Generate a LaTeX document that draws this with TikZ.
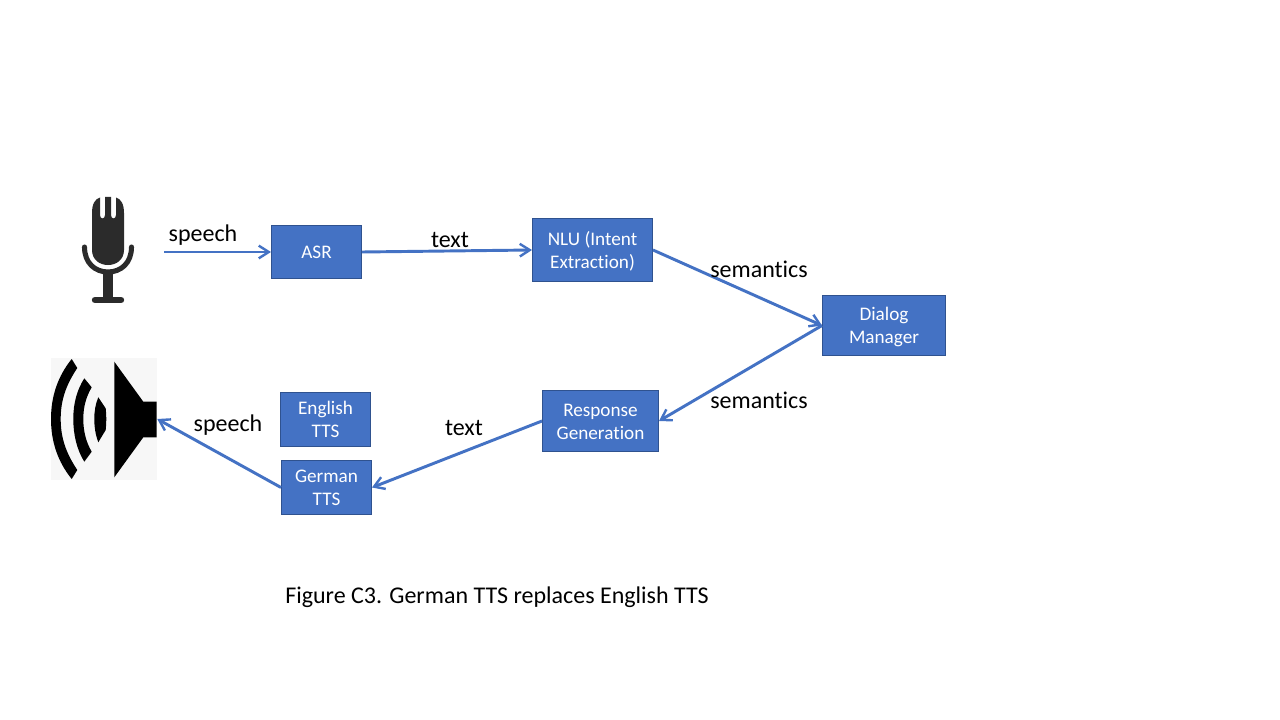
\documentclass[tikz,border=0pt]{standalone}
\usepackage{fontspec}
\setmainfont{Carlito}[Ligatures=NoCommon]
\usetikzlibrary{arrows.meta,positioning}
\definecolor{boxblue}{HTML}{4472C4}
\definecolor{boxedge}{HTML}{2F528F}
\definecolor{micdark}{HTML}{2B2B2B}
\tikzset{
  x=0.75pt,y=-0.75pt,
  block/.style={draw=boxedge,line width=0.6pt,fill=boxblue,text=white,align=center,inner sep=0pt,font=\fontsize{14.4}{17}\selectfont},
  conn/.style={draw=boxblue,line width=2.2pt,-{Straight Barb[length=7.5pt,width=9.5pt,line width=1.8pt]}},
  lbl/.style={font=\fontsize{18}{21}\selectfont,text=black,inner sep=0pt},
}
\newcommand{\linestrut}{\rule[-2.6pt]{0pt}{15.4pt}}
\newcommand{\blocknode}[7]{\node[block,minimum width=#4*0.75pt-0.6pt,minimum height=#5*0.75pt-0.6pt] (#1) at (#2,#3) {\linestrut#6\linestrut#7};}
\begin{document}
\begin{tikzpicture}
\useasboundingbox (0,0) rectangle (1280,720);
\fill[white] (0,0) rectangle (1280,720);
% microphone
\fill[micdark] (92,213) .. controls (92,204) and (95,199) .. (100,197.5) -- (100,215) .. controls (100,219.5) and (105,219.5) .. (105,215) -- (105,197) -- (111,197) -- (111,215) .. controls (111,219.5) and (116,219.5) .. (116,215) -- (116,197.5) .. controls (121,199) and (124,204) .. (124,213) -- (124,250) .. controls (124,260) and (116,265) .. (108,265) .. controls (100,265) and (92,260) .. (92,250) -- cycle;
\draw[micdark,line width=3.8pt,line cap=round] (84.5,247) .. controls (84.5,263) and (95,272) .. (108,272) .. controls (121,272) and (131.5,263) .. (131.5,247);
\fill[micdark] (103,272) rectangle (113,298);
\draw[micdark,line width=4.8pt,line cap=round] (95,300) -- (121,300);
% speaker
\node[fill=black!3,inner sep=0pt,minimum width=79.5pt,minimum height=91.5pt] (spk) at (104,419) {};
\fill[black] (114.3,361.7) -- (143.3,401.7) -- (156.7,401.7) -- (156.7,437.3) -- (143.3,437.3) -- (114.3,477.3) -- cycle;
\fill[black] (71.7,359) -- (77.3,368) .. controls (66,385) and (60.7,400) .. (60.7,419) .. controls (60.7,438) and (66,453) .. (77.3,470) -- (71.7,479) .. controls (58,462) and (51,442) .. (51,419) .. controls (51,396) and (58,376) .. (71.7,359) -- cycle;
\fill[black] (84.3,378.3) -- (91.7,387.3) .. controls (86,397) and (83.3,407) .. (83.3,419) .. controls (83.3,431) and (86,442) .. (91.7,451.7) -- (84.3,461.7) .. controls (77,450) and (73.3,435) .. (73.3,419) .. controls (73.3,403) and (77,390) .. (84.3,378.3) -- cycle;
\fill[black] (98.3,397.3) -- (105.7,408.3) .. controls (106.5,415) and (106.5,423) .. (105.7,430) -- (98.3,442.3) .. controls (95.5,435) and (94.3,427) .. (94.3,419) .. controls (94.3,411) and (95.5,404) .. (98.3,397.3) -- cycle;
% boxes
\blocknode{asr}{316.5}{252}{91}{54}{ASR}{}
\blocknode{nlu}{592.5}{250}{121}{64}{NLU (Intent\\}{Extraction)}
\blocknode{dm}{884}{325.5}{124}{61}{Dialog\\}{Manager}
\blocknode{rg}{600.5}{421}{117}{62}{Response\\}{Generation}
\blocknode{en}{325.5}{419.5}{91}{55}{English\\}{TTS}
\blocknode{de}{326.5}{487.5}{91}{55}{German\\}{TTS}
% connectors
\coordinate (micout) at (164,252);
\draw[conn] (micout) -- (asr.west);
\draw[conn] (asr.east) -- (nlu.west);
\draw[conn] (nlu.east) -- (dm.west);
\draw[conn] (dm.west) -- (rg.east);
\draw[conn] (rg.west) -- (de.east);
\draw[conn] (de.west) -- (spk.east);
% labels
\node[lbl] (l1) at (203,235) {speech};
\node[lbl] (l2) at (450,240) {text};
\node[lbl] (l3) at (759,269) {semantics};
\node[lbl] (l4) at (759,400) {semantics};
\node[lbl] (l5) at (464,428) {text};
\node[lbl] (l6) at (228,425) {speech};
\node[lbl,anchor=west] (cap) at (285,597) {Figure C3. German TTS replaces English TTS};
\end{tikzpicture}
\end{document}
